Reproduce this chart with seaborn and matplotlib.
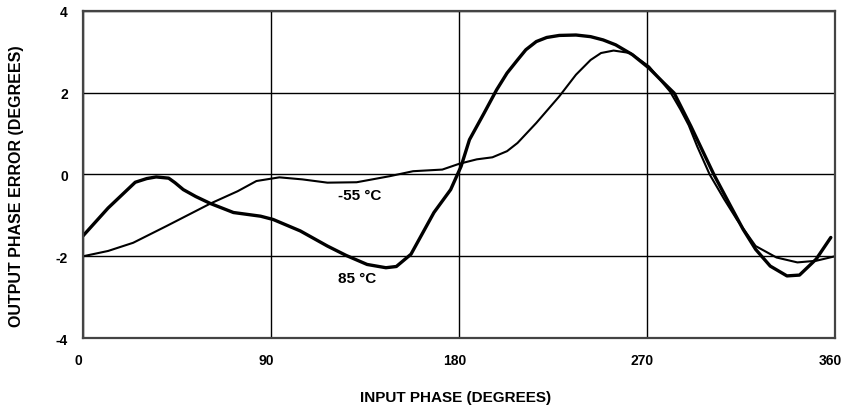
import numpy as np
import pandas as pd
import matplotlib.pyplot as plt
import matplotlib.transforms as mtransforms
import seaborn as sns

# -55 C curve (thin)
cold_x = [0, 12, 24, 40, 61, 74, 83, 94, 105, 117, 131, 147, 158, 172, 180, 188.5, 196, 203,
          208, 217, 228, 236, 243, 248, 254, 262, 271, 281, 286, 290, 294, 300, 307, 313, 322,
          332, 342, 351, 360]
cold_y = [-2.0, -1.87, -1.67, -1.26, -0.71, -0.41, -0.16, -0.07, -0.12, -0.2, -0.19, -0.04,
          0.08, 0.12, 0.26, 0.37, 0.42, 0.57, 0.77, 1.26, 1.91, 2.44, 2.8, 2.97, 3.03, 2.97,
          2.64, 2.03, 1.59, 1.2, 0.69, 0.0, -0.61, -1.1, -1.75, -2.03, -2.15, -2.11, -2.0]

# 85 C curve (thick)
hot_x = [0, 12, 25, 30.5, 35, 41, 44, 48, 54, 61, 72, 85, 91, 104, 117, 126, 136, 145, 150,
         157, 168, 176, 181, 185, 192, 198, 203, 208, 212, 217, 222, 228, 236, 243, 249, 255,
         263, 271, 278, 283, 291, 302, 310, 316, 322, 329, 337, 343, 351, 358]
hot_y = [-1.5, -0.82, -0.19, -0.1, -0.06, -0.09, -0.2, -0.37, -0.54, -0.71, -0.93, -1.02,
         -1.1, -1.38, -1.75, -1.98, -2.2, -2.28, -2.25, -1.95, -0.93, -0.37, 0.2, 0.85, 1.5,
         2.07, 2.48, 2.8, 3.05, 3.25, 3.35, 3.4, 3.41, 3.37, 3.29, 3.17, 2.93, 2.6, 2.24,
         1.99, 1.18, 0.0, -0.77, -1.34, -1.83, -2.24, -2.48, -2.46, -2.07, -1.54]

xticks = [0, 90, 180, 270, 360]
yticks = [-4, -2, 0, 2, 4]

df = pd.concat([
    pd.DataFrame({'phase': cold_x, 'error': cold_y, 'temp': '-55 °C'}),
    pd.DataFrame({'phase': hot_x, 'error': hot_y, 'temp': '85 °C'}),
])

sns.set_style('white')
plt.rcParams['font.family'] = ['Liberation Sans', 'DejaVu Sans']
plt.rcParams['font.weight'] = 'bold'
plt.rcParams['axes.unicode_minus'] = False
plt.rcParams['text.color'] = 'black'
plt.rcParams['axes.labelcolor'] = 'black'
plt.rcParams['xtick.color'] = 'black'
plt.rcParams['ytick.color'] = 'black'

fig = plt.figure(figsize=(8.43, 4.10), dpi=100)
ax = fig.add_axes([0.0985, 0.173, 0.892, 0.798])

sns.lineplot(data=df, x='phase', y='error', hue='temp', size='temp',
             sizes={'-55 °C': 1.5, '85 °C': 2.4},
             palette={'-55 °C': 'black', '85 °C': 'black'},
             legend=False, ax=ax, sort=False)

ax.set_xlim(0, 360)
ax.set_ylim(-4, 4)
ax.set_xticks(xticks)
ax.set_yticks(yticks)
ax.grid(True, color='black', linewidth=1.0)
ax.set_axisbelow(True)
for s in ax.spines.values():
    s.set_color('#444444')
    s.set_linewidth(1.6)
ax.tick_params(length=0, labelsize=10, pad=11)
for lab in ax.get_xticklabels() + ax.get_yticklabels():
    lab.set_fontweight('bold')
# x tick labels sit a little left of their grid lines in the reference
shift = mtransforms.ScaledTranslation(-0.045, 0, fig.dpi_scale_trans)
for lab in ax.get_xticklabels():
    lab.set_transform(lab.get_transform() + shift)

ax.set_xlabel('INPUT PHASE (DEGREES)', fontsize=11, fontweight='bold')
ax.set_ylabel('OUTPUT PHASE ERROR (DEGREES)', fontsize=11.5, fontweight='bold')
ax.xaxis.set_label_coords(0.495, -0.18)
ax.yaxis.set_label_coords(-0.088, 0.468)
ax.xaxis.label.set_va('center')
ax.yaxis.label.set_va('center')

ax.text(122, -0.49, '-55 °C', fontsize=11, fontweight='bold', va='center', ha='left')
ax.text(122, -2.54, '85 °C', fontsize=11, fontweight='bold', va='center', ha='left')

fig.savefig('out.png', dpi=100)
